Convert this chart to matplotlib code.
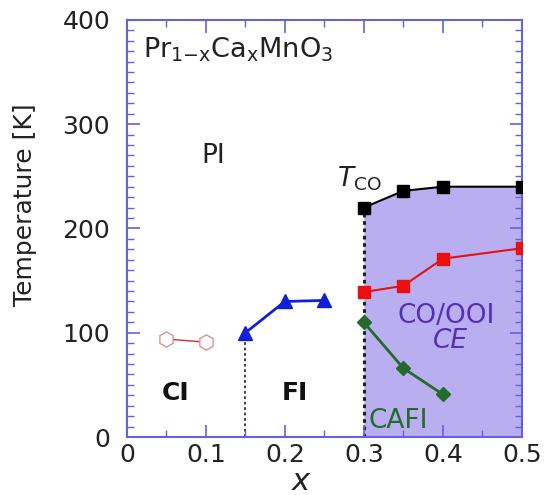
import numpy as np
import matplotlib.pyplot as plt
from matplotlib.ticker import MultipleLocator

plt.rcParams['font.family'] = ['DejaVu Sans']
plt.rcParams['mathtext.fontset'] = 'dejavusans'

# T_CO (charge order)
x_co = [0.30, 0.35, 0.40, 0.50]
t_co = [220, 236, 240, 240]
# red squares
x_red = [0.30, 0.35, 0.40, 0.50]
t_red = [139, 145, 171, 181]
# CAFI (green diamonds)
x_caf = [0.30, 0.35, 0.40]
t_caf = [110, 66, 41]
# FI (blue triangles)
x_fi = [0.15, 0.20, 0.25]
t_fi = [100, 130, 131]
# CI (open hexagons)
x_ci = [0.05, 0.10]
t_ci = [94, 91]

spine_col = '#6262e0'
fill_col = '#b9aff0'
txt = '#222222'

fig = plt.figure(figsize=(5.47, 4.95), dpi=100)
ax = fig.add_axes([0.232, 0.117, 0.722, 0.843])

ax.fill_between(x_co, 0, t_co, color=fill_col, lw=0, zorder=0)

ax.plot([x_fi[0], x_fi[0]], [0, t_fi[0]], color='#333333', ls=(0, (1.5, 1.5)), lw=1.3, zorder=1)
ax.plot([x_co[0], x_co[0]], [0, t_co[0]], color='#222222', ls=(0, (1.2, 1.2)), lw=2.2, zorder=1)

ax.plot(x_co, t_co, '-s', color='black', ms=9, lw=1.5, zorder=3)
ax.plot(x_red, t_red, '-s', color='#e81010', ms=9, lw=1.5, zorder=3)
ax.plot(x_caf, t_caf, '-D', color='#226b2c', ms=7, lw=2, zorder=3)
ax.plot(x_fi, t_fi, '-^', color='#1020d8', ms=10, lw=2, zorder=3)
ax.plot(x_ci, t_ci, '-h', color='#d03030', mfc='white', mec='#e09090', ms=11, lw=1, zorder=3)

ax.set_xlim(0, 0.5)
ax.set_ylim(0, 400)
ax.xaxis.set_major_locator(MultipleLocator(0.1))
ax.xaxis.set_minor_locator(MultipleLocator(0.05))
ax.yaxis.set_major_locator(MultipleLocator(100))
ax.yaxis.set_minor_locator(MultipleLocator(10))
ax.set_xticks([0, 0.1, 0.2, 0.3, 0.4, 0.5])
ax.set_xticklabels(['0', '0.1', '0.2', '0.3', '0.4', '0.5'])
ax.tick_params(which='both', direction='in', colors=spine_col, labelcolor=txt,
               labelsize=18, top=True, right=True)
ax.tick_params(which='major', length=9, width=1.2)
ax.tick_params(which='minor', length=5, width=1)
ax.tick_params(axis='x', pad=4)
ax.tick_params(axis='y', pad=12)
for s in ax.spines.values():
    s.set_color(spine_col)
    s.set_linewidth(1.5)

ax.set_ylabel('Temperature [K]', fontsize=18, color=txt)
ax.yaxis.set_label_coords(-0.228, 0.556)
ax.set_xlabel('x', fontsize=22, style='italic', color=txt)
ax.xaxis.set_label_coords(0.44, -0.072)

ax.text(0.02, 364, r'Pr$_{1\mathrm{-x}}$Ca$_\mathrm{x}$MnO$_3$', fontsize=19.5, color=txt, va='baseline')
ax.text(0.1095, 263, 'PI', fontsize=19, color=txt, ha='center', va='baseline')
ax.text(0.322, 234, r'$T_\mathrm{CO}$', fontsize=19, color=txt, ha='right', va='bottom')
ax.text(0.404, 109, 'CO/OOI', fontsize=19, color='#5530b0', ha='center', va='baseline')
ax.text(0.409, 85, 'CE', fontsize=19, color='#5530b0', style='italic', ha='center', va='baseline')
ax.text(0.344, 8.5, 'CAFI', fontsize=19, color='#226b2c', ha='center', va='baseline')
ax.text(0.061, 35.5, 'CI', fontsize=18, color='#111111', fontweight='bold', ha='center', va='baseline')
ax.text(0.213, 35.5, 'FI', fontsize=18, color='#111111', fontweight='bold', ha='center', va='baseline')

fig.savefig('out.png', dpi=100)
